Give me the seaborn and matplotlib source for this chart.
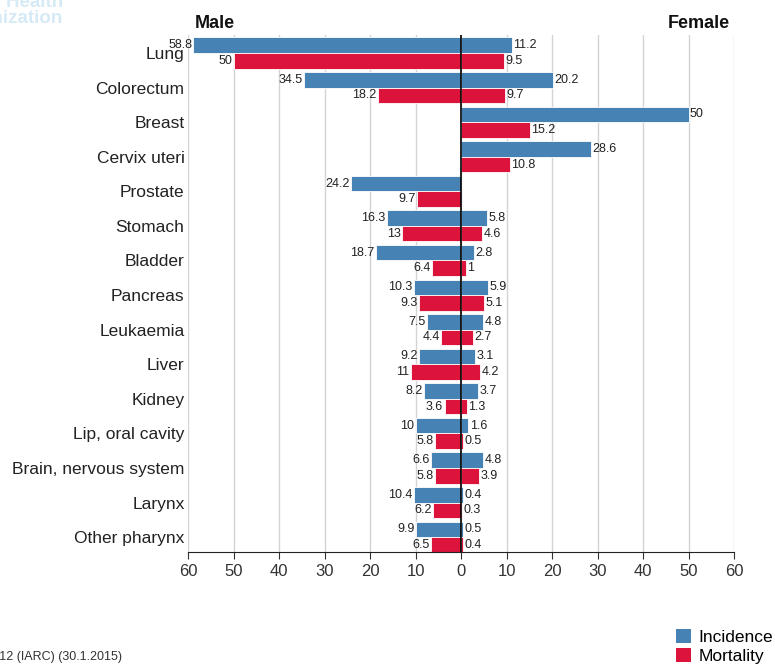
import numpy as np
import pandas as pd
import matplotlib
matplotlib.use('Agg')
import matplotlib.pyplot as plt
import seaborn as sns
from matplotlib.patches import Patch

# ── Data ──────────────────────────────────────────────────────────────────────
sites = ['Lung', 'Colorectum', 'Breast', 'Cervix uteri', 'Prostate', 'Stomach',
         'Bladder', 'Pancreas', 'Leukaemia', 'Liver', 'Kidney', 'Lip, oral cavity',
         'Brain, nervous system', 'Larynx', 'Other pharynx']
male_incidence = [58.8, 34.5, np.nan, np.nan, 24.2, 16.3, 18.7, 10.3, 7.5, 9.2, 8.2, 10, 6.6, 10.4, 9.9]
male_mortality = [50, 18.2, np.nan, np.nan, 9.7, 13, 6.4, 9.3, 4.4, 11, 3.6, 5.8, 5.8, 6.2, 6.5]
female_incidence = [11.2, 20.2, 50, 28.6, np.nan, 5.8, 2.8, 5.9, 4.8, 3.1, 3.7, 1.6, 4.8, 0.4, 0.5]
female_mortality = [9.5, 9.7, 15.2, 10.8, np.nan, 4.6, 1, 5.1, 2.7, 4.2, 1.3, 0.5, 3.9, 0.3, 0.4]
measures = ['Incidence', 'Mortality']
colors = {'Incidence': '#4682b4', 'Mortality': '#dc143c'}
ticks = [-60, -50, -40, -30, -20, -10, 0, 10, 20, 30, 40, 50, 60]

male = pd.DataFrame({'site': sites * 2,
                     'measure': ['Incidence'] * len(sites) + ['Mortality'] * len(sites),
                     'value': [-v for v in male_incidence] + [-v for v in male_mortality]})
female = pd.DataFrame({'site': sites * 2,
                       'measure': ['Incidence'] * len(sites) + ['Mortality'] * len(sites),
                       'value': female_incidence + female_mortality})

plt.rcParams['font.family'] = ['Liberation Sans', 'DejaVu Sans']

fig = plt.figure(figsize=(7.75, 6.66), dpi=100)
ax = fig.add_axes([0.2426, 0.1712, 0.7045, 0.7762])

for d in (male, female):
    sns.barplot(data=d, y='site', x='value', hue='measure', order=sites,
                hue_order=measures, palette=colors, saturation=1, orient='h', width=0.9,
                edgecolor='white', linewidth=0.6, legend=False, ax=ax, zorder=2)

for c in ax.containers:
    labs = []
    for b in c:
        w = b.get_width()
        labs.append('' if (np.isnan(w) or w == 0) else f'{abs(w):g}')
    ax.bar_label(c, labels=labs, padding=1, fontsize=9, color='#222222')

ax.set_xlim(-60, 60)
ax.set_ylim(14.43, -0.52)
ax.set_xticks(ticks)
ax.set_xticklabels([str(abs(t)) for t in ticks], fontsize=12, color='#333333')
ax.tick_params(axis='y', length=0, labelsize=12.5, labelcolor='#222222', pad=2.5)
ax.tick_params(axis='x', direction='out', length=5, color='#333333')
ax.set_xlabel('')
ax.set_ylabel('')
ax.grid(axis='x', color='#d4d4d4', linewidth=1, zorder=0)
ax.set_axisbelow(True)
for s in ['top', 'right', 'left']:
    ax.spines[s].set_visible(False)
ax.spines['bottom'].set_color('#222222')
ax.axvline(0, color='black', linewidth=1.2, zorder=3)

ax.text(0.012, 1.005, 'Male', transform=ax.transAxes, fontsize=13, fontweight='bold',
        ha='left', va='bottom', color='#111111')
ax.text(0.993, 1.005, 'Female', transform=ax.transAxes, fontsize=13, fontweight='bold',
        ha='right', va='bottom', color='#111111')

# clipped watermark and source
fig.text(63 / 775, 1 - 27 / 666, 'World Health\nOrganization', fontsize=13.5, fontweight='bold',
         color='#d6eaf6', ha='right', va='bottom', linespacing=0.95)
fig.text(122 / 775, 1 - 657 / 666, 'GLOBOCAN 2012 (IARC) (30.1.2015)', fontsize=9,
         color='#333333', ha='right', va='center')

handles = [Patch(facecolor=colors[m], edgecolor='none', label=m) for m in measures]
fig.legend(handles=handles, loc='lower left', bbox_to_anchor=(669 / 775, -0.008),
           frameon=False, fontsize=12.5, handlelength=0.85, handleheight=0.85,
           handletextpad=0.45, labelspacing=0.2, borderaxespad=0)

fig.savefig('out.png', dpi=100)
